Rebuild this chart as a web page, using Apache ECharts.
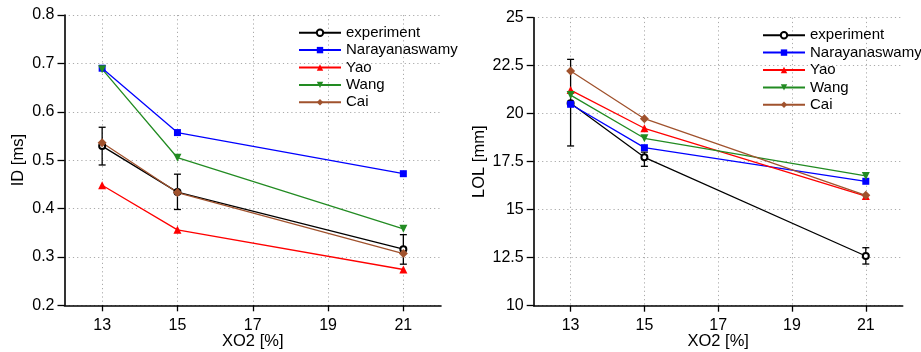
<!DOCTYPE html>
<html><head><meta charset="utf-8">
<script src="https://cdn.jsdelivr.net/npm/echarts@6/dist/echarts.min.js"></script>
<style>html,body{margin:0;padding:0;background:#fff}#c{width:921px;height:352px}</style>
</head><body><div id="c"></div>
<script>
const xo2 = [13, 15, 21];
const xTicks = [13, 15, 17, 19, 21];
const seriesNames = ['experiment', 'Narayanaswamy', 'Yao', 'Wang', 'Cai'];

// ID [ms]
const idExperiment = [0.529, 0.434, 0.316];
const idExpLow = [0.490, 0.398, 0.285];
const idExpHigh = [0.568, 0.471, 0.346];
const idNarayanaswamy = [0.690, 0.557, 0.472];
const idYao = [0.448, 0.356, 0.274];
const idWang = [0.688, 0.505, 0.358];
const idCai = [0.536, 0.433, 0.307];

// LOL [mm]
const lolExperiment = [20.54, 17.73, 12.59];
const lolExpLow = [18.32, 17.26, 12.17];
const lolExpHigh = [22.83, 18.00, 13.02];
const lolNarayanaswamy = [20.49, 18.23, 16.48];
const lolYao = [21.23, 19.24, 15.71];
const lolWang = [20.97, 18.72, 16.76];
const lolCai = [22.22, 19.74, 15.75];

const colors = {experiment:'#000000', Narayanaswamy:'#0000ff', Yao:'#ff0000', Wang:'#228b22', Cai:'#a0522d'};
const symbols = {
  experiment:{symbol:'emptyCircle', size:6, rotate:0},
  Narayanaswamy:{symbol:'rect', size:7, rotate:0},
  Yao:{symbol:'triangle', size:8, rotate:0},
  Wang:{symbol:'triangle', size:8, rotate:180},
  Cai:{symbol:'diamond', size:9, rotate:0}
};

const FONT = 'Liberation Sans, Arial, Helvetica, sans-serif';
const zip = (xs, ys) => xs.map((x, i) => [x, ys[i]]);

function lineSeries(name, vals, idx) {
  const s = symbols[name];
  return {
    type: 'line', name, xAxisIndex: idx, yAxisIndex: idx,
    data: zip(xo2, vals), symbol: s.symbol, symbolSize: s.size, symbolRotate: s.rotate,
    showAllSymbol: true, animation: false, z: 3,
    lineStyle: {color: colors[name], width: 1.3},
    itemStyle: {color: colors[name], borderWidth: name === 'experiment' ? 1.2 : 0}
  };
}
function errSeries(low, high, idx) {
  return {
    type: 'custom', name: 'err' + idx, xAxisIndex: idx, yAxisIndex: idx, z: 2, animation: false,
    data: xo2.map((x, i) => [x, low[i], high[i]]),
    renderItem: function (params, api) {
      const p1 = api.coord([api.value(0), api.value(1)]);
      const p2 = api.coord([api.value(0), api.value(2)]);
      const w = 3.5;
      const st = {stroke: '#000', lineWidth: 1.3};
      return {type: 'group', children: [
        {type: 'line', shape: {x1: p1[0], y1: p1[1], x2: p2[0], y2: p2[1]}, style: st},
        {type: 'line', shape: {x1: p1[0]-w, y1: p1[1], x2: p1[0]+w, y2: p1[1]}, style: st},
        {type: 'line', shape: {x1: p2[0]-w, y1: p2[1], x2: p2[0]+w, y2: p2[1]}, style: st}
      ]};
    }
  };
}
function xAxis(idx) {
  return {
    type: 'value', gridIndex: idx, min: 12, max: 22, interval: 1,
    name: 'XO2 [%]', nameLocation: 'middle', nameGap: 27.5, nameMoveOverlap: false,
    nameTextStyle: {fontFamily: FONT, fontSize: 16.5, color: '#000'},
    axisLine: {show: true, onZero: false, lineStyle: {color: '#000', width: 1.6}},
    axisTick: {show: true, length: 6, customValues: xTicks, lineStyle: {color: '#000', width: 1.3}},
    axisLabel: {customValues: xTicks, margin: 12, fontFamily: FONT, fontSize: 16, color: '#000'},
    splitLine: {show: true, lineStyle: {color: '#aaaaaa', type: [1.2, 3], width: 1}}
  };
}
function yAxis(idx, min, max, interval, name, fmt, gap) {
  return {
    type: 'value', gridIndex: idx, min, max, interval,
    name, nameLocation: 'middle', nameGap: gap, nameMoveOverlap: false,
    nameTextStyle: {fontFamily: FONT, fontSize: 16.5, color: '#000'},
    axisLine: {show: true, lineStyle: {color: '#000', width: 1.6}},
    axisTick: {show: true, length: 7, lineStyle: {color: '#000', width: 1.3}},
    axisLabel: {margin: 10, fontFamily: FONT, fontSize: 16, color: '#000', formatter: fmt},
    splitLine: {show: true, lineStyle: {color: '#aaaaaa', type: [1.2, 3], width: 1}}
  };
}
function legend(left, top) {
  return {
    data: seriesNames, orient: 'vertical', left, top, padding: 0,
    itemWidth: 42, itemHeight: 8, itemGap: 0,
    textStyle: {fontFamily: FONT, fontSize: 15, color: '#000', lineHeight: 17.4}
  };
}

const series = [
  errSeries(idExpLow, idExpHigh, 0),
  lineSeries('experiment', idExperiment, 0),
  lineSeries('Narayanaswamy', idNarayanaswamy, 0),
  lineSeries('Yao', idYao, 0),
  lineSeries('Wang', idWang, 0),
  lineSeries('Cai', idCai, 0),
  errSeries(lolExpLow, lolExpHigh, 1),
  lineSeries('experiment', lolExperiment, 1),
  lineSeries('Narayanaswamy', lolNarayanaswamy, 1),
  lineSeries('Yao', lolYao, 1),
  lineSeries('Wang', lolWang, 1),
  lineSeries('Cai', lolCai, 1)
];

const chart = echarts.init(document.getElementById('c'), null, {renderer: 'canvas'});
chart.setOption({
  animation: false,
  backgroundColor: '#fff',
  grid: [
    {left: 64.5, right: 480, top: 15, bottom: 46.7, outerBoundsMode: 'none', containLabel: false},
    {left: 533.7, right: 18.3, top: 17.7, bottom: 46.3, outerBoundsMode: 'none', containLabel: false}
  ],
  xAxis: [xAxis(0), xAxis(1)],
  yAxis: [
    yAxis(0, 0.2, 0.8, 0.1, 'ID [ms]', v => v.toFixed(1), 38),
    yAxis(1, 10, 25, 2.5, 'LOL [mm]', v => String(v), 46)
  ],
  legend: [legend(298, 24), legend(762, 26.5)],
  series
});
</script></body></html>
